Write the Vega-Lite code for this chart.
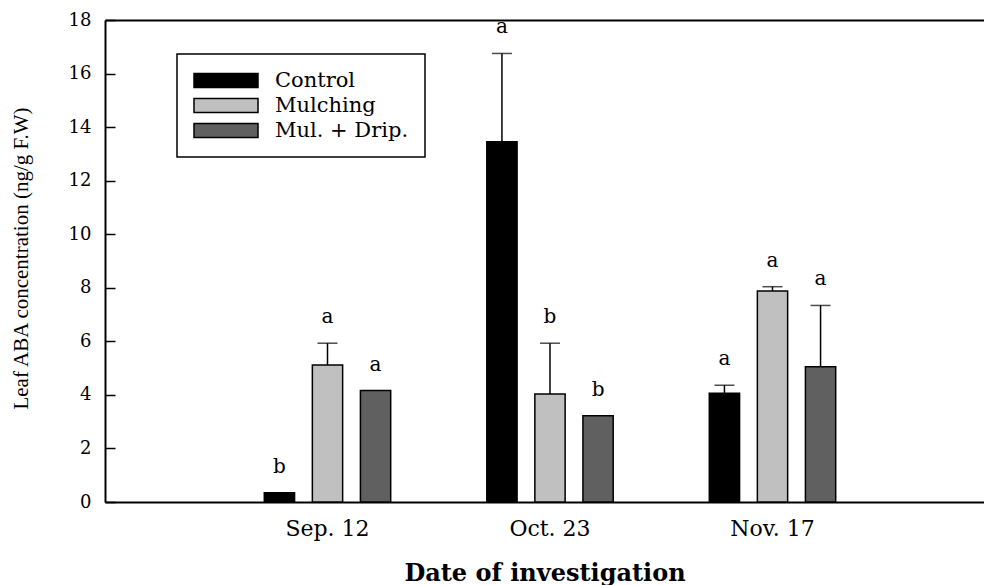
{
  "$schema": "https://vega.github.io/schema/vega-lite/v6.json",
  "width": 879,
  "height": 482,
  "autosize": {"type": "none"},
  "padding": {"left": 105, "top": 20, "right": 0, "bottom": 83},
  "background": "white",
  "config": {
    "view": {"stroke": null},
    "font": "DejaVu Serif",
    "axis": {"domainColor": "black", "domainWidth": 2, "labelColor": "black", "titleColor": "black", "tickColor": "black", "grid": false, "labelFont": "DejaVu Serif", "titleFont": "DejaVu Serif"},
    "legend": {"strokeWidth": 1.5}
  },
  "data": {
    "values": [
      {"date": "Sep. 12", "treatment": "Control", "mean": 0.35, "upper": null, "letter": "b"},
      {"date": "Sep. 12", "treatment": "Mulching", "mean": 5.12, "upper": 5.93, "letter": "a"},
      {"date": "Sep. 12", "treatment": "Mul. + Drip.", "mean": 4.16, "upper": null, "letter": "a"},
      {"date": "Oct. 23", "treatment": "Control", "mean": 13.45, "upper": 16.75, "letter": "a"},
      {"date": "Oct. 23", "treatment": "Mulching", "mean": 4.03, "upper": 5.93, "letter": "b"},
      {"date": "Oct. 23", "treatment": "Mul. + Drip.", "mean": 3.22, "upper": null, "letter": "b"},
      {"date": "Nov. 17", "treatment": "Control", "mean": 4.06, "upper": 4.36, "letter": "a"},
      {"date": "Nov. 17", "treatment": "Mulching", "mean": 7.88, "upper": 8.04, "letter": "a"},
      {"date": "Nov. 17", "treatment": "Mul. + Drip.", "mean": 5.05, "upper": 7.34, "letter": "a"}
    ]
  },
  "layer": [
    {
      "mark": {"type": "bar", "stroke": "black", "strokeWidth": 1.5},
      "encoding": {
        "x": {
          "field": "date", "type": "nominal", "sort": ["Sep. 12", "Oct. 23", "Nov. 17"],
          "scale": {"range": [0, 890], "paddingInner": 0, "paddingOuter": 0.5},
          "axis": {
            "orient": "bottom", "ticks": false, "labelAngle": 0, "labelFontSize": 22, "labelPadding": 16,
            "labelFont": "DejaVu Serif",
            "title": "Date of investigation", "titleFont": "DejaVu Serif", "titleFontSize": 24, "titleFontWeight": "bold",
            "titleBaseline": "alphabetic", "titleX": 439.5, "titleY": 78, "titleAnchor": "middle"
          }
        },
        "xOffset": {
          "field": "treatment", "type": "nominal", "sort": ["Control", "Mulching", "Mul. + Drip."],
          "scale": {"paddingInner": 0.37, "paddingOuter": 1.185}
        },
        "y": {
          "field": "mean", "type": "quantitative",
          "scale": {"domain": [0, 18], "nice": false},
          "axis": {
            "values": [0, 2, 4, 6, 8, 10, 12, 14, 16, 18], "tickSize": -10, "tickWidth": 1.5,
            "labelFont": "DejaVu Serif", "labelFontSize": 18, "labelPadding": 24,
            "title": "Leaf ABA concentration (ng/g F.W)", "titleFont": "Liberation Serif",
            "titleFontSize": 21, "titleFontWeight": "normal", "titleAngle": 270,
            "titleBaseline": "middle", "titleAlign": "center", "titleX": -84, "titleY": 238
          }
        },
        "color": {
          "field": "treatment", "type": "nominal",
          "scale": {"domain": ["Control", "Mulching", "Mul. + Drip."], "range": ["#000000", "#c0c0c0", "#606060"]},
          "legend": {
            "orient": "none", "legendX": 72, "legendY": 34, "title": null,
            "strokeColor": "black", "padding": 16, "rowPadding": 3, "clipHeight": 21,
            "symbolType": "M-1,-0.22H1V0.22H-1Z", "symbolSize": 4096,
            "symbolStrokeColor": "black", "symbolStrokeWidth": 1.5, "symbolOpacity": 1,
            "labelFontSize": 21, "labelOffset": 16, "labelColor": "black", "labelFont": "DejaVu Serif"
          }
        }
      }
    },
    {
      "mark": {"type": "rule", "color": "black", "strokeWidth": 1.5},
      "encoding": {
        "x": {"field": "date", "type": "nominal", "sort": ["Sep. 12", "Oct. 23", "Nov. 17"], "axis": null},
        "xOffset": {"field": "treatment", "type": "nominal", "sort": ["Control", "Mulching", "Mul. + Drip."]},
        "y": {"field": "mean", "type": "quantitative"},
        "y2": {"field": "upper"}
      }
    },
    {
      "mark": {"type": "tick", "color": "black", "thickness": 1.5, "size": 20, "orient": "horizontal"},
      "encoding": {
        "x": {"field": "date", "type": "nominal", "sort": ["Sep. 12", "Oct. 23", "Nov. 17"], "axis": null},
        "xOffset": {"field": "treatment", "type": "nominal", "sort": ["Control", "Mulching", "Mul. + Drip."]},
        "y": {"field": "upper", "type": "quantitative"}
      }
    },
    {
      "transform": [{"calculate": "datum.upper != null ? datum.upper : datum.mean", "as": "top"}],
      "mark": {"type": "text", "baseline": "middle", "dy": -26, "fontSize": 20, "font": "DejaVu Serif", "color": "black"},
      "encoding": {
        "x": {
          "field": "date", "type": "nominal", "sort": ["Sep. 12", "Oct. 23", "Nov. 17"],
          "axis": {"orient": "top", "labels": false, "ticks": false, "domain": true, "title": null}
        },
        "xOffset": {"field": "treatment", "type": "nominal", "sort": ["Control", "Mulching", "Mul. + Drip."]},
        "y": {"field": "top", "type": "quantitative"},
        "text": {"field": "letter"}
      }
    }
  ],
  "resolve": {"axis": {"x": "independent"}}
}
